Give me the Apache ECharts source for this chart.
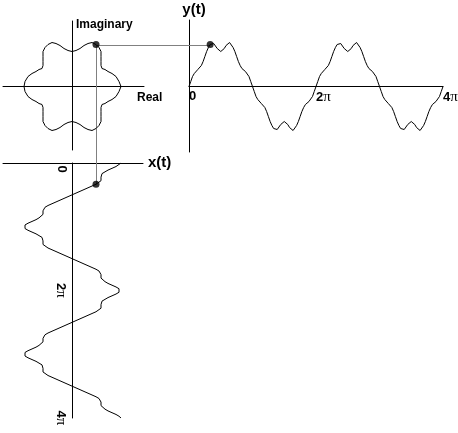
<!DOCTYPE html>
<html><head><meta charset="utf-8">
<script src="https://cdn.jsdelivr.net/npm/echarts@6/dist/echarts.min.js"></script>
<style>html,body{margin:0;padding:0;background:#fff}#c{width:458px;height:433px}</style>
</head><body><div id="c"></div>
<script>
// Samples over one period of t (degrees)
const tDeg = [0,5,10,15,20,25,30,35,40,45,50,55,60,65,70,75,80,85,
  90,95,100,105,110,115,120,125,130,135,140,145,150,155,160,165,170,175,
  180,185,190,195,200,205,210,215,220,225,230,235,240,245,250,255,260,265,
  270,275,280,285,290,295,300,305,310,315,320,325,330,335,340,345,350,355];
// Real part x(t)
const xVals = [49,47,44,40,36,33,30,29,29,29,29,27,24,20,16,12,8,4,
  0,-4,-8,-12,-16,-20,-24,-27,-29,-29,-29,-29,-30,-33,-36,-40,-44,-47,
  -48,-47,-44,-40,-36,-33,-30,-29,-29,-29,-29,-27,-24,-20,-16,-12,-8,-4,
  0,4,8,12,16,20,24,27,29,29,29,29,30,33,36,40,44,47];
// Imaginary part y(t)
const yVals = [0,5,10,13,15,17,18,21,25,30,35,39,42,44,43,41,38,36,
  35,36,38,41,43,44,42,39,35,30,25,21,18,17,15,13,10,5,
  0,-5,-10,-13,-15,-17,-18,-21,-25,-30,-35,-39,-42,-44,-43,-41,-38,-36,
  -35,-36,-38,-41,-43,-44,-42,-39,-35,-30,-25,-21,-18,-17,-15,-13,-10,-5];
const periodDeg = 360;
const periods = 2;
const tickLabels = ['0', '2π', '4π'];
const markerT = 60;

const FONT = "'Liberation Sans', Arial, sans-serif";
const SERIF = "'Liberation Serif', 'Times New Roman', serif";

const starData = [], yData = [], xData = [];
tDeg.forEach((t, i) => starData.push([xVals[i], yVals[i]]));
starData.push([xVals[0], yVals[0]]);
for (let p = 0; p < periods; p++) {
  tDeg.forEach((t, i) => {
    yData.push([t + p * periodDeg, yVals[i]]);
    xData.push([xVals[i], t + p * periodDeg]);
  });
}
yData.push([periods * periodDeg, yVals[0]]);
xData.push([xVals[0], periods * periodDeg]);

const mi = tDeg.indexOf(markerT);
const mx = xVals[mi], my = yVals[mi];

function tickFmt(v) {
  const s = tickLabels[Math.round(v / periodDeg)] || '';
  if (s === '0') return '{z|0}';
  return '{n|' + s.slice(0, -1) + '}{p|π}';
}
const richH = {
  z: {fontFamily: FONT, fontWeight: 'bold', fontSize: 13, color: '#000'},
  n: {fontFamily: FONT, fontWeight: 'bold', fontSize: 13, color: '#000'},
  p: {fontFamily: SERIF, fontSize: 15, color: '#000'}
};
const richV = {
  z: {fontFamily: FONT, fontWeight: 'bold', fontSize: 13, color: '#000', padding: [0, 0, 0, 12]},
  n: {fontFamily: FONT, fontWeight: 'bold', fontSize: 13, color: '#000'},
  p: {fontFamily: SERIF, fontSize: 15, color: '#000'}
};

const lineStyle = {color: '#000', width: 1};
const noTick = {show: false};
const noSplit = {show: false};
const nameFont = {fontFamily: FONT, fontWeight: 'bold', color: '#000'};

// grid geometry
const G0 = {left: 3, top: 21, width: 141, height: 129};
const G1 = {left: 189, top: 20, width: 254, height: 132};
const G2 = {left: 3, top: 163, width: 140, height: 255};
const g0x = [-69, 72], g0y = [-63.5, 65.5];
const g1y = [-65.5, 66.5];
const g2x = [-69, 71];

const chart = echarts.init(document.getElementById('c'), null, {renderer: 'canvas'});
chart.setOption({
  animation: false,
  backgroundColor: '#fff',
  grid: [
    Object.assign({containLabel: false, outerBoundsMode: 'none'}, G0),
    Object.assign({containLabel: false, outerBoundsMode: 'none'}, G1),
    Object.assign({containLabel: false, outerBoundsMode: 'none'}, G2)
  ],
  xAxis: [
    {gridIndex: 0, type: 'value', min: g0x[0], max: g0x[1], axisLine: {show: true, onZero: true, lineStyle},
      axisTick: noTick, splitLine: noSplit, axisLabel: {show: false},
      name: 'Real', nameLocation: 'end', nameGap: -7,
      nameTextStyle: Object.assign({fontSize: 12, align: 'left', verticalAlign: 'top', padding: [5, 0, 0, 0]}, nameFont)},
    {gridIndex: 1, type: 'value', min: 0, max: periods * periodDeg, interval: periodDeg,
      position: 'bottom', offset: g1y[0] * G1.height / (g1y[1] - g1y[0]),
      axisLine: {show: true, onZero: false, lineStyle}, axisTick: noTick, splitLine: noSplit,
      axisLabel: {show: true, showMinLabel: true, showMaxLabel: true, align: 'left', margin: 3, formatter: tickFmt, rich: richH}},
    {gridIndex: 2, type: 'value', min: g2x[0], max: g2x[1], axisLine: {show: true, onZero: true, lineStyle},
      axisTick: noTick, splitLine: noSplit, axisLabel: {show: false},
      name: 'x(t)', nameLocation: 'end', nameGap: 5,
      nameTextStyle: Object.assign({fontSize: 15, align: 'left', verticalAlign: 'middle'}, nameFont)}
  ],
  yAxis: [
    {gridIndex: 0, type: 'value', min: g0y[0], max: g0y[1], axisLine: {show: true, onZero: true, lineStyle},
      axisTick: noTick, splitLine: noSplit, axisLabel: {show: false},
      name: 'Imaginary', nameLocation: 'end', nameGap: -4,
      nameTextStyle: Object.assign({fontSize: 12, align: 'left', verticalAlign: 'middle', padding: [0, 0, 0, 4]}, nameFont)},
    {gridIndex: 1, type: 'value', min: g1y[0], max: g1y[1], axisLine: {show: true, onZero: true, lineStyle},
      axisTick: noTick, splitLine: noSplit, axisLabel: {show: false},
      name: 'y(t)', nameLocation: 'end', nameGap: 3,
      nameTextStyle: Object.assign({fontSize: 15, align: 'center', verticalAlign: 'bottom', padding: [0, 0, 0, 10]}, nameFont)},
    {gridIndex: 2, type: 'value', inverse: true, min: 0, max: periods * periodDeg, interval: periodDeg,
      position: 'left', offset: g2x[0] * G2.width / (g2x[1] - g2x[0]),
      axisLine: {show: true, onZero: false, lineStyle}, axisTick: noTick, splitLine: noSplit,
      axisLabel: {show: true, showMinLabel: true, showMaxLabel: true, rotate: -90, align: 'center', verticalAlign: 'top', margin: 4, formatter: tickFmt, rich: richV}}
  ],
  series: [
    {type: 'line', xAxisIndex: 0, yAxisIndex: 0, data: starData, showSymbol: false, silent: true, lineStyle, z: 3},
    {type: 'line', xAxisIndex: 1, yAxisIndex: 1, data: yData, showSymbol: false, silent: true, lineStyle, z: 3},
    {type: 'line', xAxisIndex: 2, yAxisIndex: 2, data: xData, showSymbol: false, silent: true, lineStyle, z: 3},
    {type: 'scatter', xAxisIndex: 0, yAxisIndex: 0, data: [[mx, my]], symbolSize: 7, itemStyle: {color: '#000'}, z: 5, silent: true},
    {type: 'scatter', xAxisIndex: 1, yAxisIndex: 1, data: [[markerT, my]], symbolSize: 7, itemStyle: {color: '#000'}, z: 5, silent: true},
    {type: 'scatter', xAxisIndex: 2, yAxisIndex: 2, data: [[mx, markerT]], symbolSize: 7, itemStyle: {color: '#000'}, z: 5, silent: true}
  ]
});

const p0 = chart.convertToPixel({xAxisIndex: 0, yAxisIndex: 0}, [mx, my]);
const p1 = chart.convertToPixel({xAxisIndex: 1, yAxisIndex: 1}, [markerT, my]);
const p2 = chart.convertToPixel({xAxisIndex: 2, yAxisIndex: 2}, [mx, markerT]);
const gx = Math.round(p0[0]) + 0.5, gy = Math.round(p0[1]) + 0.5;
chart.setOption({
  graphic: [
    {type: 'line', z: 1, silent: true, shape: {x1: gx, y1: gy, x2: p1[0], y2: gy}, style: {stroke: '#808080', lineWidth: 1}},
    {type: 'line', z: 1, silent: true, shape: {x1: gx, y1: gy, x2: gx, y2: p2[1]}, style: {stroke: '#808080', lineWidth: 1}}
  ]
});
</script>
</body></html>
